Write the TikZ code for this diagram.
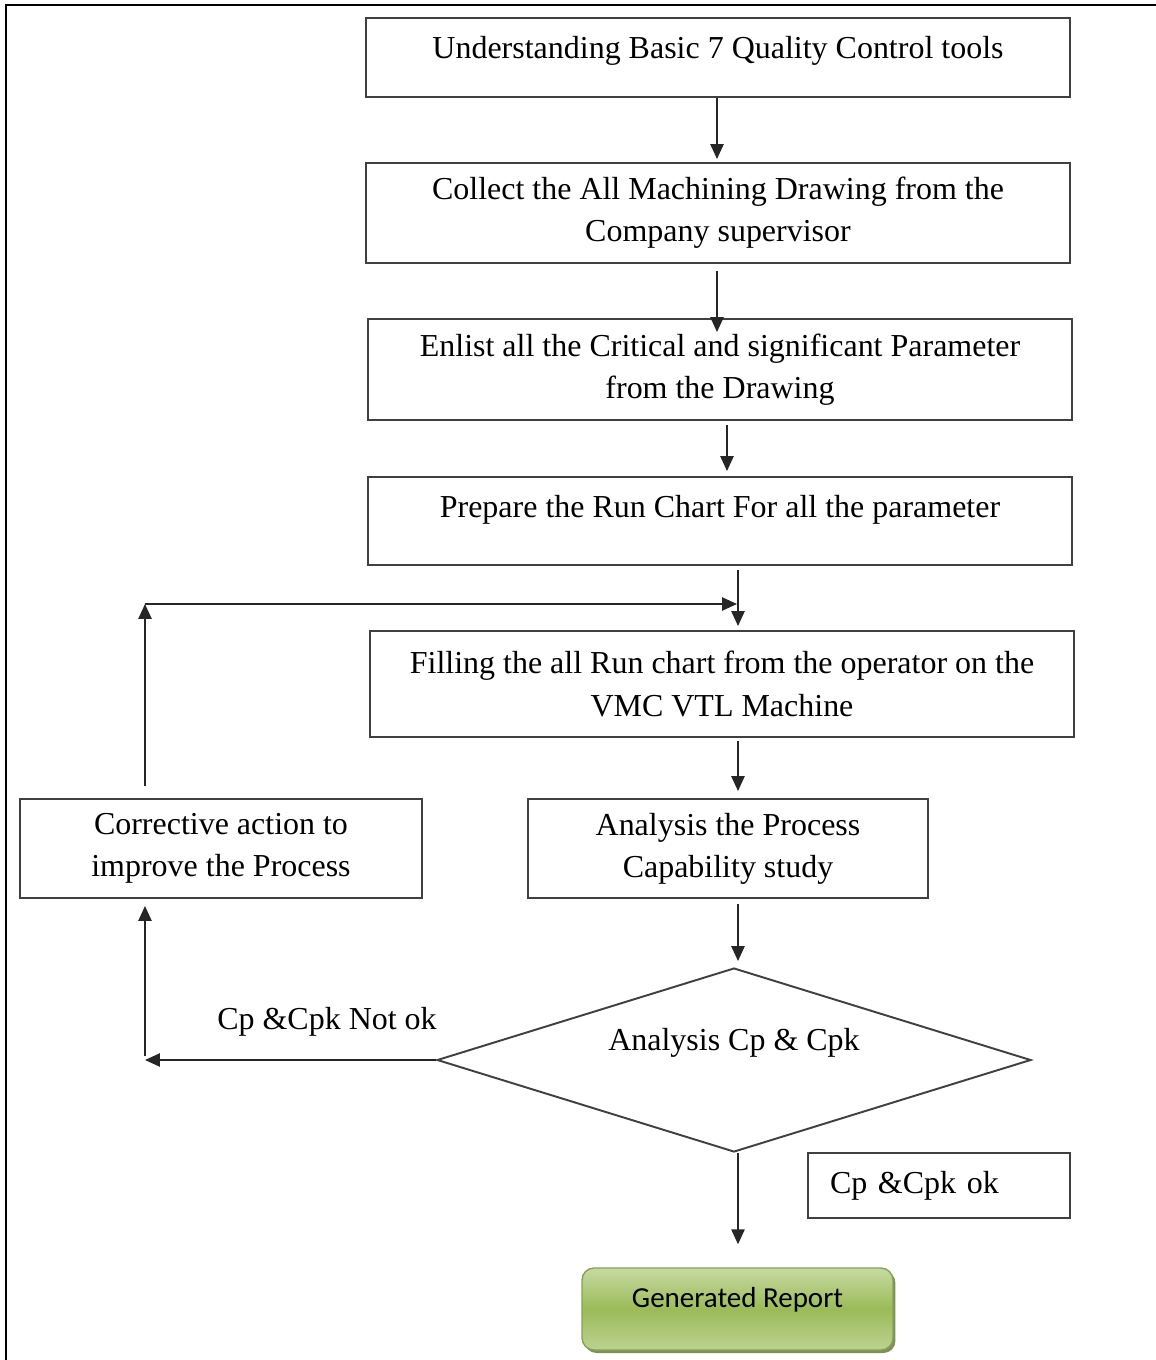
\documentclass[tikz,border=0pt]{standalone}
\usepackage{fontspec}
\setmainfont{Liberation Serif}
\newfontfamily\reportfont{Carlito}
\usetikzlibrary{shapes.geometric,arrows.meta,shadows}
\definecolor{boxline}{HTML}{404040}
\definecolor{greenedge}{HTML}{86A34F}
\definecolor{greentop}{HTML}{C6DAA2}
\definecolor{greenmid}{HTML}{9BBB59}
\definecolor{greenbot}{HTML}{BCD290}
\definecolor{greenshade}{HTML}{5D7530}
\tikzset{
  stagebox/.style={draw=boxline, line width=1.1pt, inner sep=0pt, align=center,
    font=\fontsize{18.2}{24}\selectfont},
  decide/.style={diamond, aspect=3.23, draw=boxline, line width=1.1pt, inner sep=0pt,
    minimum width=11.88cm, minimum height=3.68cm, text height=0.3cm, text depth=0.7cm,
    font=\fontsize{18.2}{24}\selectfont},
  reportbox/.style={rounded corners=0.24cm, draw=greenedge, line width=0.8pt,
    top color=greentop, bottom color=greenbot, middle color=greenmid,
    drop shadow={shadow xshift=0.05cm, shadow yshift=-0.06cm, fill=greenshade, opacity=0.8},
    minimum width=6.22cm, minimum height=1.64cm, text height=0.52cm, text depth=0.6cm,
    font=\reportfont\fontsize{16.5}{20}\selectfont},
  flow/.style={-{Triangle[length=8.5pt,width=7.5pt]}, line width=1.1pt, draw=black!85},
}
\begin{document}
\begin{tikzpicture}[x=0.02cm, y=-0.02cm]
    \useasboundingbox (0,0) rectangle (1156,1360);
    \draw[line width=1.7pt] (6,1362) -- (6,5) -- (1158,5);
    \node[stagebox, minimum width=14.08cm, text height=0.8cm, text depth=0.78cm] (tools) at (718,57.5) {Understanding Basic 7 Quality Control tools};
    \node[stagebox, minimum width=14.08cm, minimum height=2.0cm] (collect) at (718,213) {Collect the All Machining Drawing from the\\Company supervisor};
    \node[stagebox, minimum width=14.08cm, minimum height=2.02cm] (enlist) at (720,369.5) {Enlist all the Critical and significant Parameter\\from the Drawing};
    \node[stagebox, minimum width=14.08cm, text height=0.8cm, text depth=0.96cm] (runchart) at (720,521) {Prepare the Run Chart For all the parameter};
    \node[stagebox, minimum width=14.08cm, minimum height=2.12cm] (filling) at (722,684) {Filling the all Run chart from the operator on the\\VMC VTL Machine};
    \node[stagebox, minimum width=8.0cm, minimum height=1.98cm] (process) at (728,848.5) {Analysis the Process\\Capability study};
    \node[stagebox, minimum width=8.04cm, minimum height=1.98cm] (corrective) at (221,848.5) {Corrective action to\\improve the Process};
    \node[decide] (check) at (734,1060) {Analysis Cp \& Cpk};
    \node[font=\fontsize{18.2}{24}\selectfont] (notok) at (327,1022) {Cp \&Cpk Not ok};
    \node[stagebox, minimum width=5.24cm, minimum height=1.3cm, inner xsep=0.44cm, text width=4.36cm, align=left] (ok) at (939,1185.5) {Cp \&Cpk ok};
    \node[reportbox] (report) at (737.5,1309) {Generated Report};
    \coordinate (stemA) at (717,0);
    \coordinate (stemB) at (727,0);
    \coordinate (stemC) at (738,0);
    \coordinate (loop) at (145,604);
    \draw[flow, shorten >=0.06cm] (tools.south -| stemA) -- (collect.north -| stemA);
    \draw[flow, shorten <=0.14cm, shorten >=-0.28cm] (collect.south -| stemA) -- (enlist.north -| stemA);
    \draw[flow, shorten <=0.08cm, shorten >=0.1cm] (enlist.south -| stemB) -- (runchart.north -| stemB);
    \draw[flow, shorten <=0.08cm, shorten >=0.08cm] (runchart.south -| stemC) -- (filling.north -| stemC);
    \draw[flow, shorten <=0.24cm] (corrective.north -| loop) -- (loop);
    \draw[flow, shorten >=0.02cm] (loop) -- (loop -| stemC);
    \draw[flow, shorten <=0.06cm, shorten >=0.14cm] (filling.south -| stemC) -- (process.north -| stemC);
    \draw[flow, shorten <=0.1cm, shorten >=0.12cm] (process.south -| stemC) -- (check.north -| stemC);
    \draw[flow] (check.west) -- (check.west -| loop);
    \draw[flow, shorten <=0.08cm, shorten >=0.14cm] (check.west -| loop) -- (corrective.south -| loop);
    \draw[flow, shorten >=0.46cm] (check.south -| stemC) -- (report.north -| stemC);
  \end{tikzpicture}
\end{document}
